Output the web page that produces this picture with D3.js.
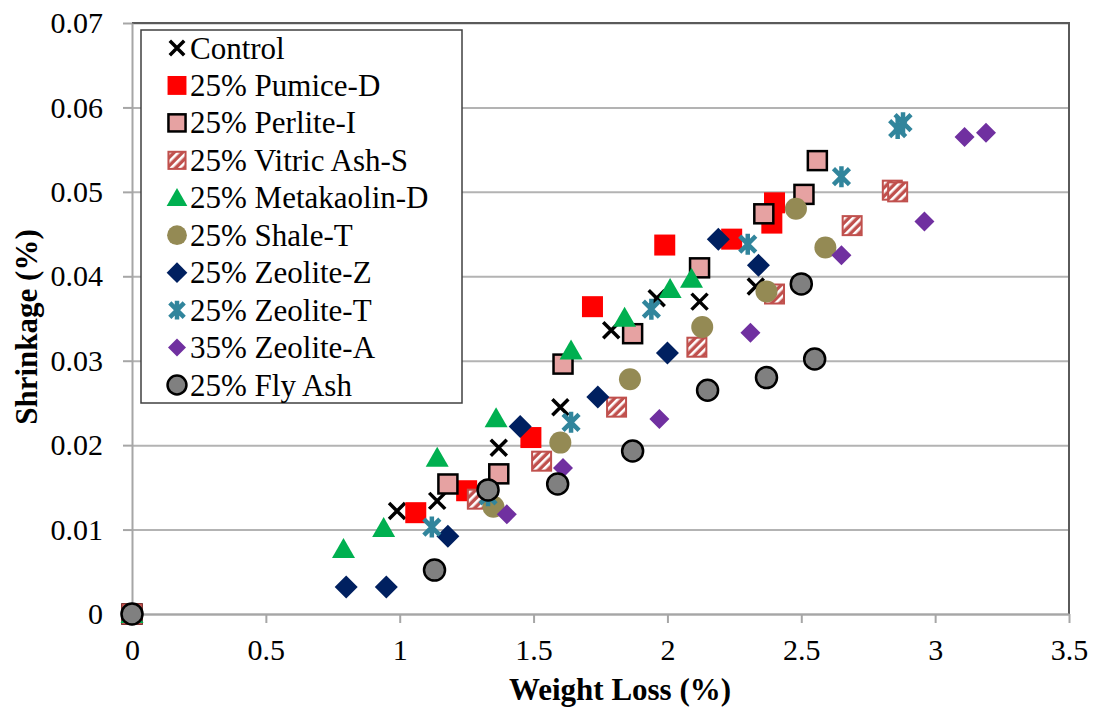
<!DOCTYPE html>
<html>
<head>
<meta charset="utf-8">
<script src="https://cdn.jsdelivr.net/npm/d3@7"></script>
<style>
  body { margin: 0; background: #fff; }
  svg { display: block; }
  svg text { fill: #000; }
</style>
</head>
<body>
<svg id="chart" width="1096" height="708"></svg>
<script>
// Weight loss (%) vs. shrinkage (%) for each mixture, [weightLoss, shrinkage]
const control     = [[0,0],[0.99,0.0122],[1.14,0.0134],[1.37,0.0197],[1.60,0.0245],[1.79,0.0336],[1.96,0.0374],[2.12,0.0370],[2.33,0.0388]];
const pumiceD     = [[0,0],[1.06,0.0120],[1.25,0.0146],[1.49,0.0209],[1.72,0.0364],[1.99,0.0437],[2.24,0.0444],[2.39,0.0463],[2.40,0.0487]];
const perliteI    = [[0,0],[1.18,0.0154],[1.37,0.0166],[1.61,0.0296],[1.87,0.0332],[2.12,0.0410],[2.36,0.0474],[2.51,0.0497],[2.56,0.0537]];
const vitricAshS  = [[0,0],[1.29,0.0136],[1.53,0.0181],[1.81,0.0245],[2.11,0.0316],[2.40,0.0379],[2.69,0.0460],[2.84,0.0502],[2.86,0.0500]];
const metakaolinD = [[0,0],[0.79,0.0077],[0.94,0.0102],[1.14,0.0185],[1.36,0.0232],[1.64,0.0312],[1.84,0.0351],[2.01,0.0385],[2.09,0.0397]];
const shaleT      = [[0,0],[1.35,0.0127],[1.60,0.0203],[1.86,0.0278],[2.13,0.0340],[2.37,0.0382],[2.48,0.0480],[2.59,0.0434]];
const zeoliteZ    = [[0,0],[0.80,0.0032],[0.95,0.0032],[1.18,0.0092],[1.45,0.0222],[1.74,0.0257],[2.00,0.0309],[2.19,0.0444],[2.34,0.0413]];
const zeoliteT    = [[0,0],[1.12,0.0103],[1.33,0.0140],[1.64,0.0227],[1.94,0.0361],[2.30,0.0438],[2.65,0.0518],[2.86,0.0575],[2.88,0.0582]];
const zeoliteA    = [[0,0],[1.40,0.0118],[1.61,0.0173],[1.97,0.0231],[2.31,0.0333],[2.65,0.0425],[2.96,0.0465],[3.11,0.0565],[3.19,0.0570]];
const flyAsh      = [[0,0],[1.13,0.0052],[1.33,0.0147],[1.59,0.0154],[1.87,0.0193],[2.15,0.0265],[2.37,0.0280],[2.50,0.0391],[2.55,0.0302]];

const seriesNames = ["Control","25% Pumice-D","25% Perlite-I","25% Vitric Ash-S","25% Metakaolin-D",
                     "25% Shale-T","25% Zeolite-Z","25% Zeolite-T","35% Zeolite-A","25% Fly Ash"];

const xTickValues = [0, 0.5, 1, 1.5, 2, 2.5, 3, 3.5];
const xTickLabels = ["0", "0.5", "1", "1.5", "2", "2.5", "3", "3.5"];
const yTickValues = [0, 0.01, 0.02, 0.03, 0.04, 0.05, 0.06, 0.07];
const yTickLabels = ["0", "0.01", "0.02", "0.03", "0.04", "0.05", "0.06", "0.07"];

const xTitle = "Weight Loss (%)";
const yTitle = "Shrinkage (%)";

const serifFont = "'Liberation Serif', 'Times New Roman', 'Nimbus Roman', 'Nimbus Roman No9 L', 'FreeSerif', 'DejaVu Serif', serif";

// Marker styles per series
const markerStyles = [
  { shape: "x",        stroke: "#000000", width: 3.5 },
  { shape: "square",   fill: "#ff0000", size: 21 },
  { shape: "square",   fill: "#e6a2a2", stroke: "#000000", width: 2.5, size: 19 },
  { shape: "square",   fill: "url(#hatch)", stroke: "#c0504d", width: 2, size: 19 },
  { shape: "triangle", fill: "#00b050" },
  { shape: "circle",   fill: "#948a54", r: 11 },
  { shape: "diamond",  fill: "#002060", r: 11.5 },
  { shape: "star",     stroke: "#31859c", width: 4.5 },
  { shape: "diamond",  fill: "#7030a0", r: 10 },
  { shape: "circle",   fill: "#808080", stroke: "#000000", width: 2.5, r: 10.5 }
];

const seriesData = [control, pumiceD, perliteI, vitricAshS, metakaolinD, shaleT, zeoliteZ, zeoliteT, zeoliteA, flyAsh];
const series = seriesNames.map((name, i) => ({ name, points: seriesData[i], style: markerStyles[i] }));

const svg = d3.select("#chart");
const plot = { left: 132, right: 1069, top: 23, bottom: 614 };

const x = d3.scaleLinear().domain([0, 3.5]).range([plot.left, plot.right]);
const y = d3.scaleLinear().domain([0, 0.07]).range([plot.bottom, plot.top]);

// Hatch fill for the vitric ash markers
const defs = svg.append("defs");
const pat = defs.append("pattern")
  .attr("id", "hatch").attr("patternUnits", "userSpaceOnUse")
  .attr("width", 6).attr("height", 6)
  .attr("patternTransform", "rotate(45)");
pat.append("rect").attr("width", 6).attr("height", 6).attr("fill", "#c0504d");
pat.append("rect").attr("x", 0).attr("width", 2.6).attr("height", 6).attr("fill", "#ffffff");

// Horizontal gridlines
svg.append("g")
  .attr("transform", `translate(${plot.left},0)`)
  .call(d3.axisLeft(y).tickValues(yTickValues).tickSize(-(plot.right - plot.left)).tickFormat(""))
  .call(g => g.select(".domain").remove())
  .call(g => g.selectAll(".tick line").attr("stroke", "#b3b3b3").attr("stroke-width", 2));

// Plot area border (top and right)
svg.append("path")
  .attr("d", `M${plot.left},${plot.top}H${plot.right}V${plot.bottom}`)
  .attr("fill", "none").attr("stroke", "#5a5a5a").attr("stroke-width", 2);

// Y axis
svg.append("g")
  .attr("transform", `translate(${plot.left},0)`)
  .call(d3.axisLeft(y).tickValues(yTickValues).tickSize(9).tickPadding(20)
        .tickFormat((d, i) => yTickLabels[i]).tickSizeOuter(0))
  .attr("font-family", serifFont)
  .call(g => g.select(".domain").attr("stroke", "#a6a6a6").attr("stroke-width", 2))
  .call(g => g.selectAll(".tick line").attr("stroke", "#a6a6a6").attr("stroke-width", 2))
  .call(g => g.selectAll(".tick text").attr("font-size", 30).attr("fill", "#000"));

// X axis
svg.append("g")
  .attr("transform", `translate(0,${plot.bottom})`)
  .call(d3.axisBottom(x).tickValues(xTickValues).tickSize(9).tickPadding(16)
        .tickFormat((d, i) => xTickLabels[i]).tickSizeOuter(0))
  .attr("font-family", serifFont)
  .call(g => g.select(".domain").attr("stroke", "#a6a6a6").attr("stroke-width", 2))
  .call(g => g.selectAll(".tick line").attr("stroke", "#a6a6a6").attr("stroke-width", 2))
  .call(g => g.selectAll(".tick text").attr("font-size", 30).attr("fill", "#000"));

// Axis titles
svg.append("text")
  .attr("x", 620).attr("y", 700)
  .attr("text-anchor", "middle")
  .attr("font-family", serifFont)
  .attr("font-size", 31).attr("font-weight", "bold")
  .text(xTitle);

svg.append("text")
  .attr("transform", "translate(37,327) rotate(-90)")
  .attr("text-anchor", "middle")
  .attr("font-family", serifFont)
  .attr("font-size", 31).attr("font-weight", "bold")
  .text(yTitle);

// Marker drawing
function drawMarker(sel, s, k = 1) {
  switch (s.shape) {
    case "x": {
      const h = 8 * k;
      sel.append("path").attr("d", `M${-h},${-h}L${h},${h}M${-h},${h}L${h},${-h}`)
        .attr("stroke", s.stroke).attr("stroke-width", s.width).attr("fill", "none");
      break;
    }
    case "star": {
      const h = 8 * k, v = 10.5 * k;
      sel.append("path").attr("d", `M${-h},${-h}L${h},${h}M${-h},${h}L${h},${-h}M0,${-v}L0,${v}`)
        .attr("stroke", s.stroke).attr("stroke-width", s.width).attr("fill", "none");
      break;
    }
    case "square": {
      const a = s.size * k;
      sel.append("rect").attr("x", -a / 2).attr("y", -a / 2).attr("width", a).attr("height", a)
        .attr("fill", s.fill).attr("stroke", s.stroke || "none").attr("stroke-width", s.width || 0);
      break;
    }
    case "triangle": {
      const w = 11.5 * k, t = 11 * k, b = 9 * k;
      sel.append("path").attr("d", `M0,${-t}L${w},${b}L${-w},${b}Z`).attr("fill", s.fill);
      break;
    }
    case "circle": {
      sel.append("circle").attr("r", s.r * k)
        .attr("fill", s.fill).attr("stroke", s.stroke || "none").attr("stroke-width", s.width || 0);
      break;
    }
    case "diamond": {
      const r = s.r * k;
      sel.append("path").attr("d", `M0,${-r}L${r},0L0,${r}L${-r},0Z`).attr("fill", s.fill);
      break;
    }
  }
}

// Data markers, one layer per series in order
const marks = svg.append("g");
series.forEach(sr => {
  const g = marks.append("g").attr("class", "series");
  g.selectAll("g.pt").data(sr.points).join("g")
    .attr("class", "pt")
    .attr("transform", d => `translate(${x(d[0])},${y(d[1])})`)
    .each(function () { drawMarker(d3.select(this), sr.style); });
});

// Legend
const legend = svg.append("g");
legend.append("rect")
  .attr("x", 141).attr("y", 30).attr("width", 321).attr("height", 373)
  .attr("fill", "#fff").attr("stroke", "#404040").attr("stroke-width", 1.5);

const rowY = d3.scalePoint().domain(seriesNames).range([48, 385]);
series.forEach(sr => {
  const row = legend.append("g").attr("transform", `translate(0,${rowY(sr.name)})`);
  const m = row.append("g").attr("transform", "translate(177,0)");
  drawMarker(m, sr.style, 0.9);
  row.append("text").attr("x", 190).attr("y", 0).attr("dy", "0.34em")
    .attr("font-family", serifFont)
    .attr("font-size", 31).text(sr.name);
});
</script>
</body>
</html>
